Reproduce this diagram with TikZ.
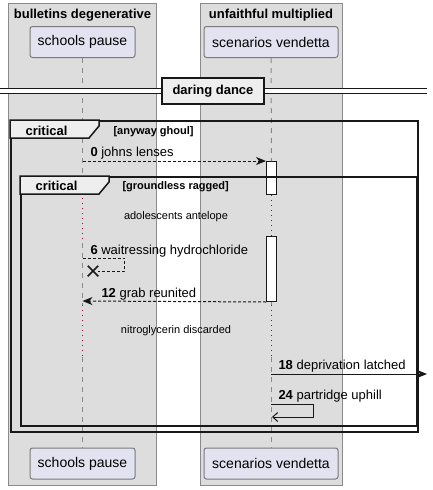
\documentclass[tikz,border=0pt]{standalone}
\usepackage{fontspec}
\setmainfont{Liberation Sans}
\usetikzlibrary{arrows.meta, positioning, shapes.misc}
\definecolor{cbox}{HTML}{DDDDDD}
\definecolor{cboxline}{HTML}{8A8A8A}
\definecolor{cpart}{HTML}{E2E2F0}
\definecolor{cpartline}{HTML}{7A7A7A}
\definecolor{clife}{HTML}{8A8A8A}
\definecolor{cdelay}{HTML}{A80036}
\definecolor{ctab}{HTML}{EEEEEE}
\definecolor{cink}{HTML}{181818}
\tikzset{
  every picture/.style={line width=1pt},
  part/.style={draw=cpartline, fill=cpart, rounded corners=2.5pt, minimum width=#1, minimum height=31pt, inner sep=0pt, font=\fontsize{14}{16}\selectfont},
  grp/.style={draw=cboxline, fill=cbox, inner sep=0pt},
  grptitle/.style={font=\fontsize{13}{15}\selectfont\bfseries, inner sep=0pt},
  life/.style={draw=clife, dash pattern=on 5pt off 5pt},
  delay/.style={draw=cdelay, dash pattern=on 1pt off 4pt},
  act/.style={draw=cink, fill=white, minimum width=10pt, inner sep=0pt},
  msg/.style={draw=cink, -{Stealth[length=10pt, width=8pt, inset=3pt]}},
  msgdash/.style={msg, dash pattern=on 3pt off 2pt},
  selfback/.style={draw=cink, -{Straight Barb[length=5pt, width=9pt]}},
  txt/.style={font=\fontsize{13}{15}\selectfont, inner sep=0pt, anchor=base west},
  note/.style={font=\fontsize{11}{13}\selectfont, inner sep=0pt, anchor=base},
  guard/.style={font=\fontsize{11}{13}\selectfont\bfseries, inner sep=0pt, anchor=base west},
  divbox/.style={draw=cink, fill=ctab, line width=1.5pt, minimum width=102pt, minimum height=26pt, inner sep=0pt, font=\fontsize{13}{15}\selectfont\bfseries},
  divline/.style={draw=cink, double, double distance=3.5pt, line width=1pt},
}

\begin{document}
\begin{tikzpicture}[x=1pt, y=-1pt,
  frame/.style={draw=cink, line width=1.5pt, inner sep=0pt, anchor=north west},
  tab/.style={draw=cink, fill=ctab, line width=1.5pt},
  tablabel/.style={font=\fontsize{13}{15}\selectfont\bfseries, inner sep=0pt, anchor=base}]
  \useasboundingbox (0,0) rectangle (433,490);
  % boxes with titles
  \node[grp, minimum width=148pt, minimum height=482pt, anchor=north west] (g1) at (8,3) {};
  \node[grp, minimum width=142pt, minimum height=482pt, anchor=north west] (g2) at (200,3) {};
  \node[grptitle, anchor=base] (g1t) at (82.5,18.5) {bulletins degenerative};
  \node[grptitle, anchor=base] (g2t) at (271,18.5) {unfaithful multiplied};
  % participants, head and foot
  \foreach \n/\x/\w/\t in {sp/82.5/105/schools pause, sv/271/134/scenarios vendetta} {
    \node[part=\w pt] (\n) at (\x,42) {\t};
    \node[part=\w pt] (\n2) at (\x,463.5) {\t};
  }
  % activations
  \node[act, minimum height=33pt, anchor=north] (a1) at (271.5,161) {};
  \node[act, minimum height=65pt, anchor=north] (a2) at (271.5,236) {};
  % lifelines
  \coordinate (l1) at (82.5,198); \coordinate (l2) at (82.5,243);
  \coordinate (l3) at (82.5,305); \coordinate (l4) at (82.5,357);
  \coordinate (r3) at (271,305); \coordinate (r4) at (271,357);
  \draw[life] (sp) -- (l1); \draw[delay] (l1) -- (l2); \draw[life] (l2) -- (l3);
  \draw[delay] (l3) -- (l4); \draw[life] (l4) -- (sp2);
  \draw[life] (sv) -- (a1); \draw[delay] (a1) -- (a2); \draw[life] (a2.south -| r3) -- (r3);
  \draw[delay] (r3) -- (r4); \draw[life] (r4) -- (sv2);
  % divider
  \node[divbox] (dd) at (213,91) {daring dance};
  \coordinate (dl) at (0,91); \coordinate (dr) at (427,91);
  \draw[divline] (dl) -- (dd); \draw[divline] (dd) -- (dr);
  % critical frames
  \node[frame, minimum width=407pt, minimum height=311pt] (f1) at (10,120) {};
  \draw[tab] (f1.north west) -- ++(89,0) -- ++(0,6) -- ++(-10,12) -- ++(-79,0) -- cycle;
  \node[tablabel] (f1l) at (46.5,135) {critical};
  \node[guard] (f1g) at (113,134.3) {[anyway ghoul]};
  \node[frame, minimum width=396pt, minimum height=249pt] (f2) at (20,176) {};
  \draw[tab] (f2.north west) -- ++(89,0) -- ++(0,6) -- ++(-10,12) -- ++(-79,0) -- cycle;
  \node[tablabel] (f2l) at (56.5,190.7) {critical};
  \node[guard] (f2g) at (122,189) {[groundless ragged]};
  % delays
  \node[note] (d1) at (176,219.3) {adolescents antelope};
  \node[note] (d2) at (176,333) {nitroglycerin discarded};
  % messages
  \coordinate (m0) at (82.5,161);
  \draw[msgdash] (m0) -- (a1.north west);
  \node[txt] (t0) at (90,156.5) {\textbf{0} johns lenses};
  \coordinate (m6) at (82.5,258);
  \node[draw=cink, cross out, line width=1.5pt, minimum size=9pt, inner sep=0pt] (x6) at (93,271) {};
  \draw[draw=cink, dash pattern=on 3pt off 2pt] (m6) -- ++(42,0) |- (x6.east);
  \node[txt] (t6) at (90,254) {\textbf{6} waitressing hydrochloride};
  \coordinate (m12) at (82.5,301);
  \draw[msgdash] (a2.south west) -- (m12);
  \node[txt] (t12) at (101,297) {\textbf{12} grab reunited};
  \coordinate (m18) at (271,374); \coordinate (m18e) at (427,374);
  \draw[msg] (m18) -- (m18e);
  \node[txt] (t18) at (278,369) {\textbf{18} deprivation latched};
  \coordinate (m24) at (271,404); \coordinate (m24e) at (272,417);
  \draw[selfback] (m24) -- ++(42,0) |- (m24e);
  \node[txt] (t24) at (278,399) {\textbf{24} partridge uphill};
\end{tikzpicture}
\end{document}
